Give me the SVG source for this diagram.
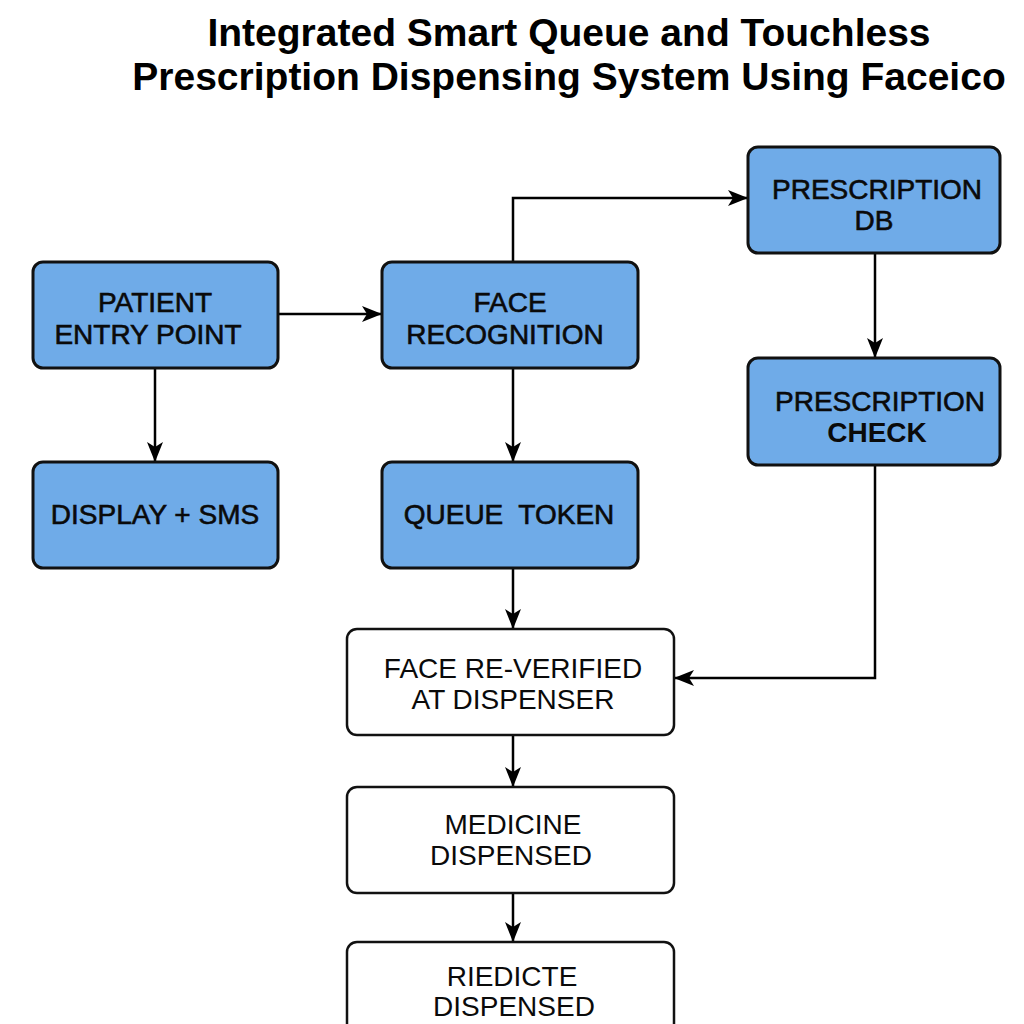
<svg xmlns="http://www.w3.org/2000/svg" width="1024" height="1024" viewBox="0 0 1024 1024">
<style>
.title{font-family:"Liberation Sans",Arial,sans-serif;font-weight:bold;font-size:39px;fill:#000;text-anchor:middle}
.blue{fill:#6fabe8;stroke:#111;stroke-width:3}
.white{fill:#fff;stroke:#111;stroke-width:2.5}
.lbl{font-family:"Liberation Sans",Arial,sans-serif;font-size:28px;fill:#0a0a0a;text-anchor:middle}
.bl{stroke:#0a0a0a;stroke-width:0.6}
.conn{fill:none;stroke:#000;stroke-width:2.5}
</style>
<defs>
<marker id="a" viewBox="0 0 20 16" refX="20" refY="8" markerWidth="20" markerHeight="16" markerUnits="userSpaceOnUse" orient="auto">
<path d="M0,0 L20,8 L0,16 L5,8 Z" fill="#000"/>
</marker>
</defs>
<rect width="1024" height="1024" fill="#fff"/>
<text class="title" x="569" y="46">Integrated Smart Queue and Touchless</text>
<text class="title" x="569" y="90">Prescription Dispensing System Using Faceico</text>

<g id="connectors">
<path class="conn" d="M278,314 H382" marker-end="url(#a)"/>
<path class="conn" d="M155,368 V462" marker-end="url(#a)"/>
<path class="conn" d="M513,262 V198 H748" marker-end="url(#a)"/>
<path class="conn" d="M513,368 V462" marker-end="url(#a)"/>
<path class="conn" d="M875,253 V358" marker-end="url(#a)"/>
<path class="conn" d="M875,465 V678 H674" marker-end="url(#a)"/>
<path class="conn" d="M513,568 V629" marker-end="url(#a)"/>
<path class="conn" d="M513,735 V787" marker-end="url(#a)"/>
<path class="conn" d="M513,893 V942" marker-end="url(#a)"/>
</g>

<g id="patient-entry">
<rect class="blue" x="33" y="262" width="245" height="106" rx="10"/>
<text class="lbl bl" x="155" y="312">PATIENT</text>
<text class="lbl bl" x="148" y="344">ENTRY POINT</text>
</g>
<g id="display-sms">
<rect class="blue" x="33" y="462" width="245" height="106" rx="10"/>
<text class="lbl bl" x="155" y="524">DISPLAY + SMS</text>
</g>
<g id="face-recognition">
<rect class="blue" x="382" y="262" width="256" height="106" rx="10"/>
<text class="lbl bl" x="510" y="312">FACE</text>
<text class="lbl bl" x="505" y="344">RECOGNITION</text>
</g>
<g id="queue-token">
<rect class="blue" x="382" y="462" width="256" height="106" rx="10"/>
<text class="lbl bl" x="509" y="524" xml:space="preserve">QUEUE  TOKEN</text>
</g>
<g id="prescription-db">
<rect class="blue" x="748" y="147" width="252" height="106" rx="10"/>
<text class="lbl bl" x="877" y="199">PRESCRIPTION</text>
<text class="lbl bl" x="874" y="230">DB</text>
</g>
<g id="prescription-check">
<rect class="blue" x="748" y="358" width="252" height="107" rx="10"/>
<text class="lbl bl" x="880" y="411">PRESCRIPTION</text>
<text class="lbl" x="877" y="442" font-weight="bold">CHECK</text>
</g>
<g id="face-reverified">
<rect class="white" x="347" y="629" width="327" height="106" rx="10"/>
<text class="lbl" x="513" y="678">FACE RE-VERIFIED</text>
<text class="lbl" x="513" y="709">AT DISPENSER</text>
</g>
<g id="medicine-dispensed">
<rect class="white" x="347" y="787" width="327" height="106" rx="10"/>
<text class="lbl" x="513" y="834">MEDICINE</text>
<text class="lbl" x="511" y="865">DISPENSED</text>
</g>
<g id="final-dispensed">
<rect class="white" x="347" y="942" width="327" height="100" rx="10"/>
<text class="lbl" x="512" y="986" font-size="26">RIEDICTE</text>
<text class="lbl" x="514" y="1016" font-size="26">DISPENSED</text>
</g>
</svg>
